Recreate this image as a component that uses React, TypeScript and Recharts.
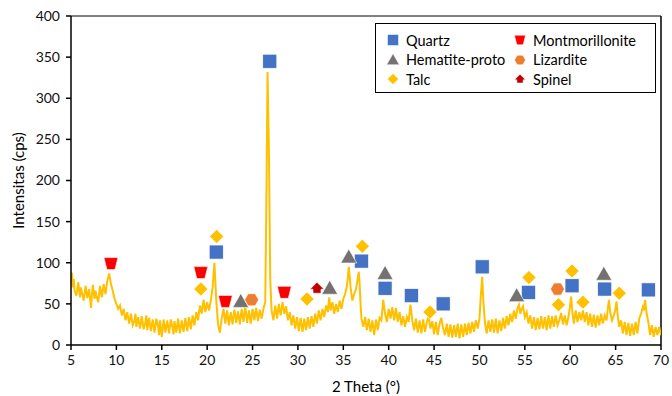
import React from 'react'
import { ComposedChart, Line, Scatter, XAxis, YAxis, ReferenceLine } from 'recharts'

// XRD trace: [2 theta, counts]
const traceA: [number, number][] = [
  [5.0, 74], [5.1, 88], [5.2, 70], [5.3, 80], [5.4, 66], [5.6, 60], [5.8, 76], [6.0, 58], [6.1, 70], [6.2, 64], [6.4, 54], [6.6, 72],
  [6.8, 57], [7.0, 68], [7.2, 45], [7.4, 73], [7.6, 56], [7.7, 66], [7.8, 60], [8.0, 52], [8.2, 72], [8.4, 58], [8.6, 74],
  [8.8, 62], [9.0, 78], [9.2, 87], [9.4, 74], [9.6, 66], [9.8, 56], [10.0, 50], [10.2, 44], [10.4, 48], [10.6, 36],
  [10.8, 44], [11.0, 30], [11.2, 40], [11.4, 26], [11.6, 38], [11.8, 24], [12.0, 30], [12.1, 38], [12.2, 22], [12.4, 34], [12.6, 20],
  [12.8, 35], [13.0, 19], [13.2, 28], [13.3, 36], [13.4, 18], [13.6, 33], [13.8, 17], [14.0, 31], [14.2, 15], [14.4, 32], [14.6, 22],
  [14.7, 12], [14.8, 30], [15.0, 10], [15.2, 31], [15.4, 15], [15.6, 30], [15.8, 14], [16.0, 31], [16.2, 20], [16.3, 13], [16.4, 29], [16.6, 15],
  [16.8, 32], [17.0, 14], [17.2, 30], [17.4, 16], [17.6, 33], [17.8, 17], [18.0, 34], [18.2, 19], [18.4, 36], [18.6, 24],
  [18.8, 40], [19.0, 30], [19.2, 48], [19.4, 38], [19.6, 55], [19.8, 40], [20.0, 52], [20.2, 42], [20.4, 54], [20.6, 70],
  [20.8, 100], [21.0, 55], [21.2, 25], [21.4, 15], [21.6, 32],
]
const traceB: [number, number][] = [
  [21.8, 44], [22.0, 26], [22.2, 42], [22.4, 24], [22.6, 40], [22.8, 25], [23.0, 43], [23.2, 27], [23.4, 41], [23.6, 25],
  [23.8, 44], [24.0, 28], [24.2, 47], [24.4, 27], [24.6, 42], [24.8, 26], [25.0, 44], [25.2, 30], [25.4, 45], [25.6, 29],
  [25.8, 43], [26.0, 32], [26.2, 44], [26.4, 52], [26.55, 200], [26.65, 332], [26.8, 240], [26.95, 80], [27.1, 42], [27.3, 30],
  [27.5, 48], [27.7, 32], [27.9, 50], [28.1, 36], [28.3, 52], [28.5, 38], [28.7, 47], [28.9, 30], [29.1, 40], [29.3, 24],
  [29.5, 36], [29.7, 20], [29.9, 34], [30.1, 17], [30.3, 33], [30.5, 16], [30.7, 32], [30.9, 18], [31.1, 34], [31.3, 20],
  [31.5, 35], [31.7, 22], [31.9, 38], [32.1, 26], [32.3, 42], [32.5, 30], [32.7, 44], [32.9, 34], [33.1, 48], [33.3, 40],
  [33.45, 58], [33.6, 42], [33.8, 52], [34.0, 38], [34.2, 50], [34.4, 40], [34.6, 54], [34.8, 44], [35.0, 56],
]
const traceC: [number, number][] = [
  [35.2, 62], [35.4, 72], [35.5, 82], [35.6, 95], [35.7, 84], [35.8, 70], [36.0, 54], [36.2, 62], [36.4, 68], [36.55, 78],
  [36.7, 89], [36.8, 74], [36.9, 50], [37.0, 32], [37.2, 22], [37.4, 34], [37.6, 18], [37.8, 32], [38.0, 16], [38.2, 30],
  [38.4, 12], [38.6, 31], [38.8, 18], [39.0, 33], [39.2, 30], [39.4, 55], [39.6, 38], [39.8, 28], [40.0, 44], [40.2, 32],
  [40.4, 46], [40.6, 30], [40.8, 45], [41.0, 28], [41.2, 40], [41.4, 24], [41.6, 35], [41.8, 22], [42.0, 34], [42.2, 28],
  [42.4, 49], [42.6, 30], [42.8, 18], [43.0, 32], [43.2, 15], [43.4, 30], [43.6, 14], [43.8, 31], [44.0, 16], [44.2, 28],
  [44.4, 34], [44.6, 20], [44.8, 29], [45.0, 13], [45.2, 28], [45.4, 12], [45.6, 26], [45.8, 33], [46.0, 20], [46.2, 12],
  [46.4, 26], [46.6, 10], [46.8, 25], [47.0, 9], [47.2, 24], [47.4, 10], [47.6, 26], [47.8, 8], [48.0, 25], [48.2, 10],
  [48.4, 26], [48.6, 12], [48.8, 27], [49.0, 14], [49.2, 28], [49.4, 16], [49.6, 30], [49.8, 20], [50.0, 32], [50.15, 60],
  [50.3, 83], [50.45, 50], [50.6, 28], [50.8, 14],
]
const traceD: [number, number][] = [
  [51.0, 30], [51.2, 16], [51.4, 31], [51.6, 15], [51.8, 32], [52.0, 14], [52.2, 30], [52.4, 17], [52.6, 33], [52.8, 20],
  [53.0, 35], [53.2, 24], [53.4, 38], [53.6, 28], [53.8, 42], [54.0, 32], [54.2, 45], [54.35, 49], [54.5, 38], [54.65, 44],
  [54.8, 47], [55.0, 34], [55.2, 40], [55.4, 26], [55.6, 36], [55.8, 20], [56.0, 34], [56.2, 18], [56.4, 33], [56.6, 19],
  [56.8, 35], [57.0, 20], [57.2, 34], [57.4, 18], [57.6, 36], [57.8, 20], [58.0, 35], [58.2, 22], [58.4, 36], [58.6, 24],
  [58.8, 30], [59.0, 39], [59.2, 25], [59.4, 36], [59.6, 24], [59.8, 34], [59.95, 45], [60.1, 59], [60.25, 38], [60.4, 26],
  [60.6, 42], [60.8, 28], [61.0, 40], [61.2, 30], [61.4, 42], [61.6, 28], [61.8, 40], [62.0, 24], [62.2, 38], [62.4, 22],
  [62.6, 37], [62.8, 21], [63.0, 36], [63.2, 24], [63.4, 38], [63.6, 26], [63.8, 36], [64.0, 30], [64.15, 45], [64.27, 55],
  [64.4, 40], [64.6, 30], [64.8, 36], [64.95, 42], [65.1, 53], [65.25, 34], [65.4, 22], [65.6, 30], [65.8, 14], [66.0, 28],
  [66.2, 12], [66.4, 27], [66.6, 11], [66.8, 26], [67.0, 12], [67.2, 28], [67.4, 14], [67.6, 32], [67.8, 38], [68.0, 46],
  [68.12, 42], [68.24, 55], [68.4, 40], [68.6, 28], [68.8, 12], [69.0, 24], [69.2, 10], [69.4, 22], [69.6, 12], [69.8, 22],
  [70.0, 12],
]

// phase markers: [2 theta, label height]
const quartz: [number, number][] = [
  [26.9, 345], [21.0, 113], [37.0, 102], [39.6, 69], [42.5, 60], [46.0, 50], [50.3, 95], [55.4, 64], [60.2, 72], [63.8, 68], [68.6, 67],
]
const hematite: [number, number][] = [[23.7, 53], [33.5, 69], [35.6, 107], [39.6, 87], [54.1, 60], [63.7, 86]]
const talc: [number, number][] = [
  [21.05, 132], [19.3, 68], [31.0, 56], [37.1, 120], [44.55, 40], [55.45, 82], [58.7, 49], [60.2, 90], [61.4, 52], [65.4, 63],
]
const montmorillonite: [number, number][] = [[9.4, 99], [19.3, 88], [22.0, 53], [28.5, 64]]
const lizardite: [number, number][] = [[24.9, 55], [58.6, 68]]
const spinel: [number, number][] = [[32.1, 69]]

const xTicks = [5, 10, 15, 20, 25, 30, 35, 40, 45, 50, 55, 60, 65, 70]
const yTicks = [0, 50, 100, 150, 200, 250, 300, 350, 400]

const toPts = (arr: [number, number][]) => arr.map(([x, y]) => ({ x, y }))
const trace = toPts([...traceA, ...traceB, ...traceC, ...traceD])

const FONT = 'Lato, "Open Sans", sans-serif'

const C = {
  quartz: '#4472C4',
  hematite: '#767171',
  talc: '#FFC000',
  mont: '#FF0000',
  liz: '#ED7D31',
  spinel: '#C00000',
}

// marker drawings, s = scale
const shapes: Record<string, (cx: number, cy: number, s: number) => React.ReactElement> = {
  quartz: (cx, cy, s) => (
    <rect x={cx - 7 * s} y={cy - 7 * s} width={14 * s} height={14 * s} fill={C.quartz} stroke="#fff" strokeWidth={0.6} />
  ),
  hematite: (cx, cy, s) => (
    <polygon points={`${cx},${cy - 8 * s} ${cx + 8 * s},${cy + 6 * s} ${cx - 8 * s},${cy + 6 * s}`} fill={C.hematite} stroke="#fff" strokeWidth={0.6} />
  ),
  talc: (cx, cy, s) => (
    <polygon points={`${cx},${cy - 7 * s} ${cx + 7 * s},${cy} ${cx},${cy + 7 * s} ${cx - 7 * s},${cy}`} fill={C.talc} stroke="#fff" strokeWidth={0.6} />
  ),
  mont: (cx, cy, s) => (
    <polygon points={`${cx - 7 * s},${cy - 6 * s} ${cx + 7 * s},${cy - 6 * s} ${cx + 4 * s},${cy + 6 * s} ${cx - 4 * s},${cy + 6 * s}`} fill={C.mont} stroke="#fff" strokeWidth={0.6} />
  ),
  liz: (cx, cy, s) => {
    const r = 7 * s
    const pts = [0, 60, 120, 180, 240, 300]
      .map(a => `${cx + r * Math.cos((a * Math.PI) / 180)},${cy + r * Math.sin((a * Math.PI) / 180)}`)
      .join(' ')
    return <polygon points={pts} fill={C.liz} stroke="#fff" strokeWidth={0.6} />
  },
  spinel: (cx, cy, s) => (
    <polygon
      points={`${cx},${cy - 6 * s} ${cx + 7 * s},${cy + 1 * s} ${cx + 4 * s},${cy + 1 * s} ${cx + 4 * s},${cy + 5 * s} ${cx - 4 * s},${cy + 5 * s} ${cx - 4 * s},${cy + 1 * s} ${cx - 7 * s},${cy + 1 * s}`}
      fill={C.spinel}
      stroke="#fff"
      strokeWidth={0.6}
    />
  ),
}

const markerShape = (key: string) => (props: any) => shapes[key](props.cx, props.cy, 1)

const series = [
  { key: 'quartz', data: quartz },
  { key: 'hematite', data: hematite },
  { key: 'talc', data: talc },
  { key: 'mont', data: montmorillonite },
  { key: 'liz', data: lizardite },
  { key: 'spinel', data: spinel },
]

const legendRows = [
  [['quartz', 'Quartz'], ['mont', 'Montmorillonite']],
  [['hematite', 'Hematite-proto'], ['liz', 'Lizardite']],
  [['talc', 'Talc'], ['spinel', 'Spinel']],
]

function YLabel({ viewBox }: any) {
  const x = viewBox.x + 18
  const y = viewBox.y + viewBox.height / 2
  return (
    <text x={x} y={y} transform={`rotate(-90, ${x}, ${y})`} textAnchor="middle" dominantBaseline="central"
      style={{ fontFamily: FONT, fontSize: 15, fill: '#000' }}>
      Intensitas (cps)
    </text>
  )
}

export default function App() {
  return (
    <div style={{ position: 'absolute', left: 0, top: 0, width: 672, height: 396, background: '#fff', fontFamily: FONT }}>
      <ComposedChart width={672} height={396} margin={{ top: 16, right: 11, bottom: 0, left: 0 }}>
        <XAxis
          type="number"
          dataKey="x"
          domain={[5, 70]}
          ticks={xTicks}
          allowDataOverflow
          height={51}
          tickSize={5}
          tickMargin={5}
          stroke="#000"
          strokeWidth={1.5}
          tick={{ fontSize: 14, fill: '#111', fontFamily: FONT }}
          label={{ value: '2 Theta (°)', position: 'insideBottom', offset: 4, style: { fontSize: 15, fill: '#000', fontFamily: FONT } }}
        />
        <YAxis
          type="number"
          dataKey="y"
          domain={[0, 400]}
          ticks={yTicks}
          allowDataOverflow
          width={71}
          tickSize={5}
          tickMargin={6}
          stroke="#000"
          strokeWidth={1.5}
          tick={{ fontSize: 14, fill: '#111', fontFamily: FONT }}
          label={{ content: YLabel }}
        />
        <ReferenceLine y={400} stroke="#000" strokeWidth={1} />
        <ReferenceLine x={70} stroke="#000" strokeWidth={1.5} />
        <Line data={trace} dataKey="y" type="linear" stroke="#FFC000" strokeWidth={2} dot={false} isAnimationActive={false} />
        {series.map(s => (
          <Scatter key={s.key} data={toPts(s.data)} shape={markerShape(s.key)} isAnimationActive={false} />
        ))}
      </ComposedChart>

      <div style={{
        position: 'absolute', left: 375, top: 23, width: 281, height: 70,
        border: '1px solid #000', boxSizing: 'border-box', background: '#fff',
      }}>
        {legendRows.map((row, i) => (
          <div key={i} style={{ position: 'absolute', top: 7 + i * 19.5, left: 0, height: 18, width: '100%' }}>
            {row.map(([key, name], j) => (
              <div key={key} style={{ position: 'absolute', left: j === 0 ? 9 : 136, top: 0, display: 'flex', alignItems: 'center', height: 18 }}>
                <svg width={16} height={16} style={{ marginRight: 5 }}>
                  {shapes[key](8, 8, 0.8)}
                </svg>
                <span style={{ fontSize: 14.5, color: '#000', whiteSpace: 'nowrap' }}>{name}</span>
              </div>
            ))}
          </div>
        ))}
      </div>
    </div>
  )
}
